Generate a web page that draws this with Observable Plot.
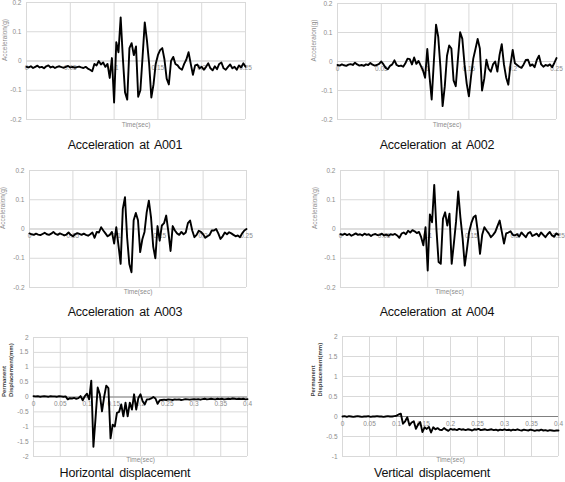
<!DOCTYPE html>
<html><head><meta charset="utf-8">
<script src="https://cdn.jsdelivr.net/npm/d3@7"></script>
<script src="https://cdn.jsdelivr.net/npm/@observablehq/plot@0.6"></script>
<style>
body{margin:0;background:#fff;}
#root{position:relative;width:565px;height:482px;overflow:hidden;background:#fff;font-family:"Liberation Sans",Arial,sans-serif;}
.panel{position:absolute;}
.title{position:absolute;width:280px;text-align:center;font-size:12.5px;line-height:15px;color:#111;letter-spacing:-0.2px;word-spacing:2px;white-space:pre;}
</style></head><body><div id="root"></div>
<script>
// ---- tick labels ----
const accelTicksX = [0, 0.05, 0.1, 0.15, 0.2, 0.25];
const accelTicksY = [-0.2, -0.1, 0, 0.1, 0.2];
const dispTicksX = [0, 0.05, 0.1, 0.15, 0.2, 0.25, 0.3, 0.35, 0.4];
const horizTicksY = [-2, -1.5, -1, -0.5, 0, 0.5, 1, 1.5, 2];
const vertTicksY = [-1, -0.5, 0, 0.5, 1, 1.5, 2];

// ---- sampling intervals (sec) ----
const accelDt = 0.0025;
const dispDt = 0.004;

// ---- series values ----
const accelA001 = [-0.02,-0.022,-0.018,-0.024,-0.02,-0.016,-0.022,-0.02,-0.025,-0.018,-0.015,-0.022,-0.019,-0.024,-0.02,-0.018,-0.021,-0.023,-0.02,-0.017,-0.022,-0.02,-0.023,-0.021,-0.019,-0.022,-0.024,-0.02,-0.026,-0.03,
-0.035,-0.01,-0.015,0.0,-0.012,-0.005,-0.02,-0.01,-0.058,0.01,
-0.142,0.064,0.03,0.149,0.01,-0.108,-0.132,0.044,0.061,0.02,
0.05,-0.122,-0.1,0.014,0.132,0.07,-0.01,-0.125,-0.08,-0.01,
0.02,0.037,0.044,0.005,-0.06,-0.08,0.0,0.014,-0.01,-0.015,
-0.025,-0.03,-0.01,0.005,0.03,-0.01,-0.047,-0.015,-0.012,-0.025,
-0.02,-0.03,-0.02,-0.008,-0.025,-0.032,-0.018,-0.028,-0.01,-0.005,
-0.025,-0.03,-0.02,-0.012,-0.025,-0.02,-0.03,-0.015,-0.022,-0.008,-0.02];

const accelA002 = [-0.012,-0.014,-0.01,-0.013,-0.015,-0.011,-0.009,-0.012,-0.004,-0.01,-0.014,-0.012,-0.015,-0.01,-0.012,-0.005,-0.011,-0.014,-0.012,-0.008,0.0,-0.01,-0.022,-0.027,-0.015,-0.01,0.004,
-0.012,-0.016,-0.014,-0.018,-0.006,0.01,0.008,-0.01,0.014,-0.008,0.002,-0.014,-0.03,
-0.056,0.043,-0.05,-0.131,0.0,0.127,0.085,-0.02,-0.154,-0.085,
0.02,0.055,0.045,-0.065,-0.085,0.01,0.101,0.078,-0.01,-0.076,
-0.12,-0.05,0.01,0.043,0.078,0.045,-0.1,-0.06,0.006,-0.025,
-0.035,-0.01,0.0,-0.035,0.023,0.06,-0.01,-0.055,-0.08,-0.01,
0.04,-0.006,-0.012,-0.018,-0.022,-0.01,0.005,0.006,-0.015,-0.01,
-0.02,0.005,0.02,-0.01,-0.018,-0.012,-0.015,-0.01,-0.02,-0.005,0.012];

const accelA003 = [-0.015,-0.018,-0.02,-0.016,-0.019,-0.021,-0.017,-0.013,-0.018,-0.02,-0.016,-0.01,-0.017,-0.02,-0.015,-0.018,-0.022,-0.019,-0.012,-0.02,-0.025,-0.018,-0.014,-0.017,-0.02,-0.016,-0.02,-0.023,-0.018,-0.012,
-0.03,-0.01,-0.012,0.006,-0.005,-0.015,-0.025,-0.02,-0.01,-0.05,
0.006,-0.056,-0.119,0.069,0.109,-0.03,-0.12,-0.148,0.03,0.055,
0.03,-0.079,-0.035,-0.01,0.057,0.097,0.04,-0.06,-0.1,0.01,
-0.04,0.012,0.02,0.046,-0.01,-0.075,0.01,-0.005,-0.015,-0.02,
-0.01,-0.018,-0.012,0.02,0.029,-0.005,-0.028,-0.02,-0.006,-0.01,
-0.018,-0.03,-0.025,-0.02,-0.005,-0.005,0.0,-0.015,-0.034,-0.025,
-0.012,-0.018,-0.011,-0.015,-0.02,-0.025,-0.022,-0.028,-0.015,-0.005,0.0];

const accelA004 = [-0.018,-0.02,-0.016,-0.021,-0.017,-0.023,-0.019,-0.015,-0.02,-0.018,-0.022,-0.016,-0.02,-0.018,-0.024,-0.019,-0.017,-0.021,-0.02,-0.016,-0.022,-0.019,-0.023,-0.018,-0.02,-0.017,-0.022,-0.03,-0.016,-0.012,
-0.018,-0.006,-0.012,-0.004,-0.008,-0.014,-0.01,-0.028,-0.056,0.006,
-0.142,0.05,0.023,0.151,0.0,-0.113,-0.119,0.035,0.057,0.012,
0.052,-0.119,-0.05,0.025,0.128,0.04,-0.03,-0.125,-0.07,-0.01,
0.02,0.04,0.046,-0.01,-0.085,-0.02,0.006,-0.005,-0.015,-0.028,
-0.02,-0.01,0.01,0.029,-0.01,-0.05,-0.015,-0.012,-0.008,-0.02,
-0.022,-0.018,-0.026,-0.012,-0.02,-0.028,-0.015,-0.01,-0.024,-0.02,
-0.016,-0.025,-0.012,-0.02,-0.028,-0.018,-0.01,-0.022,-0.026,-0.015,-0.02];

const horizDisp = [0.03,0.02,0.03,0.01,0.02,0.03,0.02,0.01,0.03,0.02,0.02,0.01,0.03,0.02,0.01,0.02,
-0.08,-0.04,-0.05,-0.03,-0.06,-0.04,0.03,-0.11,0.03,0.11,
-0.08,0.55,-1.67,-0.7,0.32,0.09,-0.48,0.0,0.38,0.3,
-1.39,-0.93,-0.99,-0.53,-0.5,-0.25,-0.65,-0.19,-0.65,-0.19,
-0.42,0.09,-0.42,-0.03,0.09,-0.14,-0.25,-0.08,-0.08,-0.05,
0.0,-0.05,-0.23,-0.11,-0.1,-0.09,-0.1,-0.08,-0.09,-0.1,
-0.08,-0.09,-0.08,-0.1,-0.09,-0.07,-0.08,-0.09,-0.08,-0.07,
-0.08,-0.07,-0.09,-0.07,-0.06,-0.08,-0.07,-0.06,-0.07,-0.08,
-0.06,-0.07,-0.06,-0.08,-0.07,-0.06,-0.07,-0.05,-0.06,-0.07,
-0.06,-0.07,-0.06,-0.08,-0.07];

const vertDisp = [0,0.01,-0.01,0.01,0,-0.01,0,0.01,0,-0.01,0,0,0.01,-0.01,0,0,0.01,0,0,-0.01,0,0.01,0,0,0.01,0.02,
0.05,0.07,-0.18,-0.12,-0.02,-0.22,-0.15,-0.12,-0.31,-0.2,
-0.14,-0.39,-0.27,-0.31,-0.26,-0.4,-0.27,-0.32,-0.29,-0.33,
-0.34,-0.29,-0.33,-0.36,-0.31,-0.33,-0.32,-0.34,-0.31,-0.33,
-0.32,-0.34,-0.32,-0.33,-0.35,-0.32,-0.33,-0.31,-0.34,-0.33,
-0.32,-0.34,-0.33,-0.32,-0.34,-0.33,-0.35,-0.33,-0.34,-0.32,
-0.34,-0.33,-0.35,-0.33,-0.34,-0.32,-0.34,-0.35,-0.33,-0.34,
-0.35,-0.33,-0.34,-0.36,-0.34,-0.35,-0.33,-0.35,-0.34,-0.36,
-0.34,-0.35,-0.36,-0.35,-0.35];

// ---- texts ----
const titles = ["Acceleration at A001","Acceleration at A002","Acceleration at A003","Acceleration at A004","Horizontal displacement","Vertical displacement"];
const xTitle = "Time(sec)";
const accelYTitle = "Acceleraion(g)";
const dispYTitle = "Permanent\nDisplacement(mm)";

const root = document.getElementById("root");
const gray = "#8c8c8c";

function panel(o) {
  const data = o.values.map((v, i) => ({t: i * o.dt, v}));
  const xMax = o.xTicks[o.xTicks.length - 1];
  const [left, top, w, h] = o.box;
  const [ml, mr, mt, mb] = o.margins;
  const svg = Plot.plot({
    width: w, height: h,
    marginLeft: ml, marginRight: mr, marginTop: mt, marginBottom: mb,
    style: {background: "transparent", overflow: "visible", fontFamily: "'Liberation Sans', Arial, sans-serif"},
    x: {domain: [0, xMax], axis: null},
    y: {domain: [o.yTicks[0], o.yTicks[o.yTicks.length - 1]], axis: null},
    marks: [
      Plot.ruleX(o.xTicks, {x: d => d, stroke: "#d9d9d9", strokeWidth: 1}),
      Plot.ruleY(o.yTicks, {y: d => d, stroke: "#d9d9d9", strokeWidth: 1}),
      Plot.ruleY([0], {y: d => d, stroke: o.zeroStroke, strokeWidth: 1}),
      Plot.text(o.xTicks, {x: d => d, y: 0, dy: 7, text: d => String(d), fill: gray, fontSize: 6.5}),
      Plot.text(o.yTicks, {y: d => d, frameAnchor: "left", dx: -5, textAnchor: "end", text: d => String(d), fill: gray, fontSize: 6.5}),
      Plot.line(data, {x: "t", y: "v", stroke: "#000", strokeWidth: 1.9, strokeLinejoin: "round"}),
      Plot.text([xTitle], {frameAnchor: "bottom", dy: o.xTitleDy, text: d => d, fill: gray, fontSize: 6.5}),
      Plot.text([o.yTitle], {frameAnchor: "left", rotate: -90, dx: o.yTitleDx, text: d => d,
        fill: o.bold ? "#404040" : gray, fontWeight: o.bold ? "bold" : "normal", fontSize: o.bold ? 6 : 6.5, lineHeight: 1.2})
    ]
  });
  const wrap = document.createElement("div");
  wrap.className = "panel";
  wrap.style.left = left + "px";
  wrap.style.top = top + "px";
  wrap.appendChild(svg);
  root.appendChild(wrap);

  const t = document.createElement("div");
  t.className = "title";
  t.textContent = o.title;
  t.style.left = (o.titleCx - 140) + "px";
  t.style.top = o.titleTop + "px";
  root.appendChild(t);
}

panel({values: accelA001, dt: accelDt, xTicks: accelTicksX, yTicks: accelTicksY, yTitle: accelYTitle,
  box: [0, 0, 280, 160], margins: [26, 35, 2, 41], zeroStroke: "#d0d0d0", yTitleDx: -22, xTitleDy: 7,
  title: titles[0], titleCx: 125, titleTop: 138});
panel({values: accelA002, dt: accelDt, xTicks: accelTicksX, yTicks: accelTicksY, yTitle: accelYTitle,
  box: [285, 0, 280, 160], margins: [52, 9, 3, 41], zeroStroke: "#d0d0d0", yTitleDx: -24, xTitleDy: 7,
  title: titles[1], titleCx: 437, titleTop: 138});
panel({values: accelA003, dt: accelDt, xTicks: accelTicksX, yTicks: accelTicksY, yTitle: accelYTitle,
  box: [0, 160, 280, 160], margins: [29, 34, 10, 33], zeroStroke: "#d0d0d0", yTitleDx: -27, xTitleDy: 6,
  title: titles[2], titleCx: 125, titleTop: 305});
panel({values: accelA004, dt: accelDt, xTicks: accelTicksX, yTicks: accelTicksY, yTitle: accelYTitle,
  box: [285, 160, 280, 160], margins: [55, 7, 10, 33], zeroStroke: "#d0d0d0", yTitleDx: -26, xTitleDy: 6,
  title: titles[3], titleCx: 437, titleTop: 305});
panel({values: horizDisp, dt: dispDt, xTicks: dispTicksX, yTicks: horizTicksY, yTitle: dispYTitle, bold: true,
  box: [0, 320, 280, 162], margins: [33, 33, 17, 26], zeroStroke: "#808080", yTitleDx: -26, xTitleDy: 5,
  title: titles[4], titleCx: 125, titleTop: 466});
panel({values: vertDisp, dt: dispDt, xTicks: dispTicksX, yTicks: vertTicksY, yTitle: dispYTitle, bold: true,
  box: [285, 320, 280, 162], margins: [57, 7, 16, 26], zeroStroke: "#808080", yTitleDx: -26, xTitleDy: 5,
  title: titles[5], titleCx: 432, titleTop: 466});
</script>
</body></html>
